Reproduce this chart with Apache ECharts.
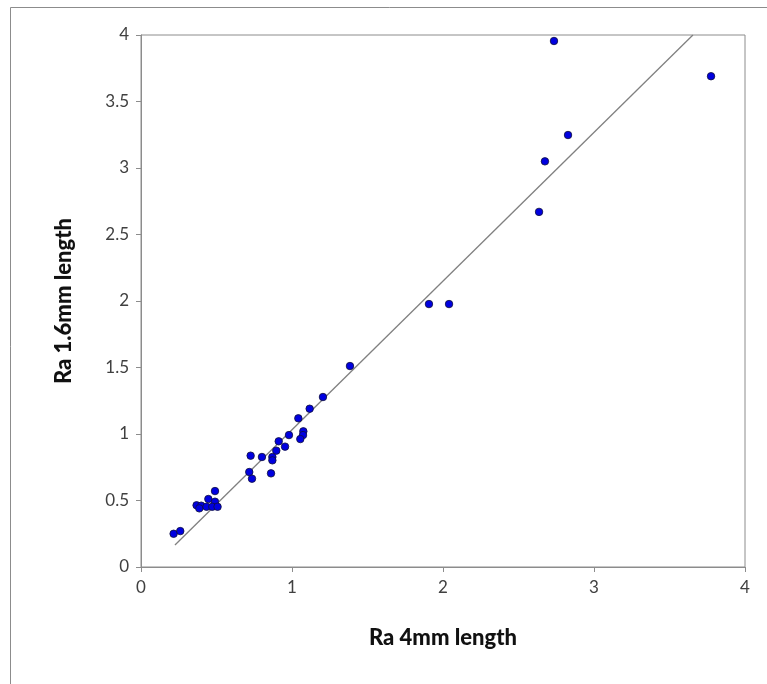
<!DOCTYPE html>
<html>
<head>
<meta charset="utf-8">
<script src="https://cdn.jsdelivr.net/npm/echarts@6/dist/echarts.min.js"></script>
<style>
  html, body { margin: 0; padding: 0; background: #fff; }
  #chart { width: 767px; height: 684px; }
</style>
</head>
<body>
<div id="chart"></div>
<script>
// Ra measured over 4mm length (x) vs 1.6mm length (y)
var ra4mm = [
  2.735, 3.775, 2.828, 2.675, 2.636, 1.907, 2.040, 1.384, 1.205,
  1.117, 1.042, 1.075, 1.073, 1.055, 0.980, 0.912, 0.954, 0.896,
  0.870, 0.870, 0.861, 0.801, 0.726, 0.717, 0.735,
  0.490, 0.446, 0.490, 0.368, 0.399, 0.386, 0.434, 0.472, 0.507,
  0.216, 0.260
];
var ra16mm = [
  3.955, 3.690, 3.248, 3.050, 2.670, 1.977, 1.977, 1.511, 1.278,
  1.190, 1.118, 1.020, 0.992, 0.962, 0.992, 0.945, 0.905, 0.875,
  0.827, 0.802, 0.704, 0.827, 0.837, 0.714, 0.664,
  0.571, 0.511, 0.491, 0.464, 0.461, 0.441, 0.453, 0.453, 0.453,
  0.250, 0.270
];

// linear trend line
var trendSlope = 1.118;
var trendIntercept = -0.086;
var trendRange = [0.225, 3.655];

var xTicks = [0, 1, 2, 3, 4];
var yTicks = [0, 0.5, 1, 1.5, 2, 2.5, 3, 3.5, 4];

var points = [];
for (var i = 0; i < ra4mm.length; i++) {
  points.push([ra4mm[i], ra16mm[i]]);
}
var trendPoints = [];
for (var j = 0; j < trendRange.length; j++) {
  trendPoints.push([trendRange[j], trendSlope * trendRange[j] + trendIntercept]);
}

var chart = echarts.init(document.getElementById('chart'));
var font = 'Lato, "Open Sans", sans-serif';
var option = {
  backgroundColor: '#fff',
  animation: false,
  graphic: [{
    type: 'rect',
    shape: { x: 10.5, y: 7.5, width: 800, height: 720 },
    style: { fill: 'none', stroke: '#8c8c8c', lineWidth: 1 },
    silent: true
  }],
  grid: {
    left: 141, right: 22, top: 35, bottom: 117,
    show: true, borderColor: '#8c8c8c', borderWidth: 1, backgroundColor: 'transparent'
  },
  xAxis: {
    type: 'value', min: 0, max: 4, interval: 1,
    name: 'Ra 4mm length', nameLocation: 'middle', nameGap: 60,
    nameTextStyle: { fontFamily: font, fontWeight: 900, fontSize: 22, color: '#111' },
    axisLine: { show: true, lineStyle: { color: '#8c8c8c', width: 1 } },
    axisTick: { show: true, length: 5, lineStyle: { color: '#8c8c8c' } },
    axisLabel: { fontFamily: font, fontSize: 17, color: '#404040', margin: 12, formatter: function (v) { return xTicks.indexOf(v) >= 0 ? String(v) : ''; } },
    splitLine: { show: false }
  },
  yAxis: {
    type: 'value', min: 0, max: 4, interval: 0.5,
    name: 'Ra 1.6mm length', nameLocation: 'middle', nameGap: 66,
    nameTextStyle: { fontFamily: font, fontWeight: 900, fontSize: 22, color: '#111' },
    axisLine: { show: true, lineStyle: { color: '#8c8c8c', width: 1 } },
    axisTick: { show: true, length: 5, lineStyle: { color: '#8c8c8c' } },
    axisLabel: { fontFamily: font, fontSize: 17, color: '#404040', margin: 12, formatter: function (v) { return yTicks.indexOf(v) >= 0 ? String(v) : ''; } },
    splitLine: { show: false }
  },
  series: [
    {
      name: 'Trend',
      type: 'line',
      data: trendPoints,
      symbol: 'none',
      lineStyle: { color: '#808080', width: 1.3 },
      z: 2
    },
    {
      name: 'Ra',
      type: 'scatter',
      data: points,
      symbolSize: 7.5,
      itemStyle: { color: '#0000e0', borderColor: '#10103a', borderWidth: 0.8, opacity: 1 },
      z: 3
    }
  ]
};
chart.setOption(option);
</script>
</body>
</html>
